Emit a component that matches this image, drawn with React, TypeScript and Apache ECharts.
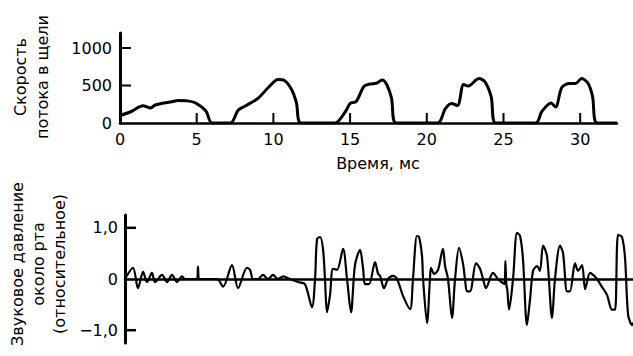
import React, { useEffect, useRef } from "react";
import * as echarts from "echarts";

// Glottal flow velocity (top panel)
const flowTime = [0, 0.7, 1.5, 2.0, 2.3, 3.3, 3.8, 4.4, 4.9, 5.6, 6.0, 7.2, 7.7, 8.2, 9.0, 9.7, 10.3, 10.7, 11.2, 11.5, 11.8, 14.0, 14.7, 15.0, 15.4, 15.9, 16.3, 16.7, 17.1, 17.4, 17.7, 18.0, 20.7, 21.2, 21.6, 22.0, 22.4, 22.7, 23.4, 23.8, 24.2, 24.5, 27.1, 27.5, 28.1, 28.4, 28.8, 29.3, 29.7, 30.1, 30.5, 30.8, 31.1, 32.4];
const flowValue = [100, 150, 230, 200, 240, 280, 300, 295, 270, 160, 0, 0, 170, 230, 330, 480, 580, 570, 440, 270, 0, 0, 153, 260, 287, 487, 520, 530, 573, 507, 333, 0, 0, 187, 260, 233, 513, 493, 593, 547, 347, 0, 0, 153, 267, 213, 473, 527, 527, 593, 533, 360, 0, 0];

// Sound pressure near the mouth (bottom panel)
const pressureTime = [0, 0.52, 0.85, 1.18, 1.44, 1.76, 1.96, 2.42, 2.75, 3.07, 3.40, 3.73, 3.92, 4.71, 4.77, 4.84, 6.01, 6.41, 6.99, 7.39, 7.97, 8.17, 8.37, 8.69, 9.02, 9.35, 9.67, 10.0, 10.33, 10.78, 11.31, 11.76, 12.22, 12.42, 12.55, 12.75, 12.94, 13.07, 13.2, 13.4, 13.59, 13.86, 14.25, 14.51, 14.77, 15.03, 15.36, 15.56, 15.69, 15.95, 16.34, 16.54, 16.67, 16.93, 17.19, 17.52, 17.78, 18.17, 18.63, 18.82, 19.08, 19.22, 19.41, 19.48, 19.74, 19.93, 20.0, 20.2, 20.46, 20.78, 20.92, 21.11, 21.37, 21.57, 21.83, 22.09, 22.22, 22.35, 22.55, 22.94, 23.2, 23.4, 23.59, 24.05, 24.38, 24.8, 24.86, 24.92, 24.99, 25.1, 25.36, 25.62, 25.82, 26.01, 26.27, 26.47, 26.67, 26.93, 27.12, 27.32, 27.58, 27.91, 28.1, 28.43, 28.63, 28.89, 29.08, 29.41, 29.61, 29.87, 30.07, 30.39, 30.59, 30.85, 31.18, 31.5, 31.83, 32.03, 32.22, 32.48, 32.68, 32.88, 33.14, 33.2];
const pressureValue = [0, 0.22, -0.18, 0.14, -0.06, 0.12, -0.06, 0.08, -0.06, 0.08, -0.06, 0.05, 0, 0, 0.24, 0, 0, -0.15, 0.27, -0.18, 0.22, 0.18, 0, 0, 0.08, 0, 0.08, 0, 0.05, 0, -0.06, -0.1, -0.55, 0, 0.78, 0.82, 0.59, 0, -0.65, -0.31, 0.2, 0.18, 0.59, 0, -0.65, 0.27, 0.57, 0.2, -0.1, -0.1, 0.33, 0.1, 0.06, -0.18, 0, 0.06, 0, -0.33, -0.59, 0, 0.84, 0.82, 0.45, 0, -0.86, 0, 0.22, 0.1, 0.18, 0.59, 0.25, 0, -0.76, 0, 0.61, 0.3, 0, -0.24, -0.24, 0.31, 0.2, 0, -0.18, 0.12, 0, -0.1, 0.35, -0.1, -0.22, -0.6, 0, 0.9, 0.84, 0.39, -0.9, -0.4, 0.16, 0.25, 0.16, 0.65, 0.45, -0.76, 0, 0.65, 0.5, -0.24, -0.24, 0.31, 0.16, 0.27, -0.2, 0.12, 0.08, 0, -0.16, -0.31, -0.6, -0.6, 0.86, 0.82, 0.41, -0.7, -0.9, -0.85];

const flowTickLabels = [0, 5, 10, 15, 20, 25, 30];
const flowTickMarks = [5, 10, 15, 20, 25, 30];
const flowYLabels = [0, 500, 1000];
const flowYTicks = [500, 1000];
const pressureYLabels = [-1, 0, 1];
const pressureYTicks = [-1, 1];

const FONT = "DejaVu Sans";
const TICK_COLOR = "#000";

// custom-series tick renderer: draws a short stroke from the data point
function tickRenderer(dx: number, dy: number, w: number) {
  return (_params: any, api: any) => {
    const p = api.coord([api.value(0), api.value(1)]);
    return {
      type: "rect",
      shape: dx === 0 ? { x: p[0] - w / 2, y: p[1] + Math.min(0, dy), width: w, height: Math.abs(dy) } : { x: p[0], y: p[1] - w / 2, width: dx, height: w },
      style: { fill: TICK_COLOR },
      silent: true,
    };
  };
}

export default function App() {
  const ref = useRef<HTMLDivElement>(null);
  useEffect(() => {
    if (!ref.current) return;
    const chart = echarts.init(ref.current, undefined, { renderer: "svg" });
    chart.setOption({
      animation: false,
      backgroundColor: "#fff",
      textStyle: { fontFamily: FONT, color: "#000" },
      grid: [
        { left: 120, top: 33, width: 497, height: 90 },
        { left: 125, top: 215, right: 0, height: 128 },
      ],
      xAxis: [
        {
          gridIndex: 0,
          type: "value",
          min: 0,
          max: 32.4,
          splitLine: { show: false },
          axisLine: { show: true, lineStyle: { color: "#000", width: 2.5 } },
          axisTick: { show: false },
          axisLabel: { customValues: flowTickLabels, color: "#000", fontSize: 16, fontFamily: FONT, margin: 8 },
        },
        {
          gridIndex: 1,
          type: "value",
          min: 0,
          max: 33.2,
          splitLine: { show: false },
          axisLine: { show: true, onZero: true, lineStyle: { color: "#000", width: 2.5 } },
          axisTick: { show: false },
          axisLabel: { show: false },
        },
      ],
      yAxis: [
        {
          gridIndex: 0,
          type: "value",
          min: 0,
          max: 1200,
          splitLine: { show: false },
          axisLine: { show: true, lineStyle: { color: "#000", width: 3 } },
          axisTick: { show: false },
          axisLabel: { customValues: flowYLabels, color: "#000", fontSize: 16, fontFamily: FONT, margin: 8, formatter: (v: number) => String(v) },
        },
        {
          gridIndex: 1,
          type: "value",
          min: -1.25,
          max: 1.25,
          splitLine: { show: false },
          axisLine: { show: true, lineStyle: { color: "#000", width: 3 } },
          axisTick: { show: false },
          axisLabel: {
            customValues: pressureYLabels,
            color: "#000",
            fontSize: 16,
            fontFamily: FONT,
            margin: 7,
            formatter: (v: number) => (v === 0 ? "0" : v > 0 ? "1,0" : "\u22121,0"),
          },
        },
      ],
      graphic: [
        {
          type: "text",
          x: 31,
          y: 77,
          rotation: Math.PI / 2,
          style: {
            text: "Скорость\nпотока в щели",
            font: `16px "${FONT}"`,
            fill: "#000",
            align: "center",
            verticalAlign: "middle",
            lineHeight: 22,
          },
        },
        {
          type: "text",
          x: 38,
          y: 264,
          rotation: Math.PI / 2,
          style: {
            text: "Звуковое давление\nоколо рта\n(относительное)",
            font: `16px "${FONT}"`,
            fill: "#000",
            align: "center",
            verticalAlign: "middle",
            lineHeight: 21,
          },
        },
        {
          type: "text",
          x: 378,
          y: 163,
          style: {
            text: "Время, мс",
            font: `16px "${FONT}"`,
            fill: "#000",
            align: "center",
            verticalAlign: "middle",
          },
        },
      ],
      series: [
        {
          type: "line",
          xAxisIndex: 0,
          yAxisIndex: 0,
          data: flowTime.map((t, i) => [t, flowValue[i]]),
          showSymbol: false,
          smooth: 0.3,
          lineStyle: { color: "#000", width: 3 },
        },
        {
          type: "line",
          xAxisIndex: 1,
          yAxisIndex: 1,
          data: pressureTime.map((t, i) => [t, pressureValue[i]]),
          showSymbol: false,
          smooth: 0.3,
          lineStyle: { color: "#000", width: 2.2 },
        },
        {
          type: "custom",
          xAxisIndex: 0,
          yAxisIndex: 0,
          silent: true,
          clip: false,
          data: flowTickMarks.map((t) => [t, 0]),
          renderItem: tickRenderer(0, -10, 2),
        },
        {
          type: "custom",
          xAxisIndex: 0,
          yAxisIndex: 0,
          silent: true,
          clip: false,
          data: flowYTicks.map((v) => [0, v]),
          renderItem: tickRenderer(11, 0, 2),
        },
        {
          type: "custom",
          xAxisIndex: 1,
          yAxisIndex: 1,
          silent: true,
          clip: false,
          data: pressureYTicks.map((v) => [0, v]),
          renderItem: tickRenderer(11, 0, 2.5),
        },
      ],
    });
    return () => chart.dispose();
  }, []);
  return <div ref={ref} style={{ position: "fixed", left: 0, top: 0, width: 633, height: 356 }} />;
}
